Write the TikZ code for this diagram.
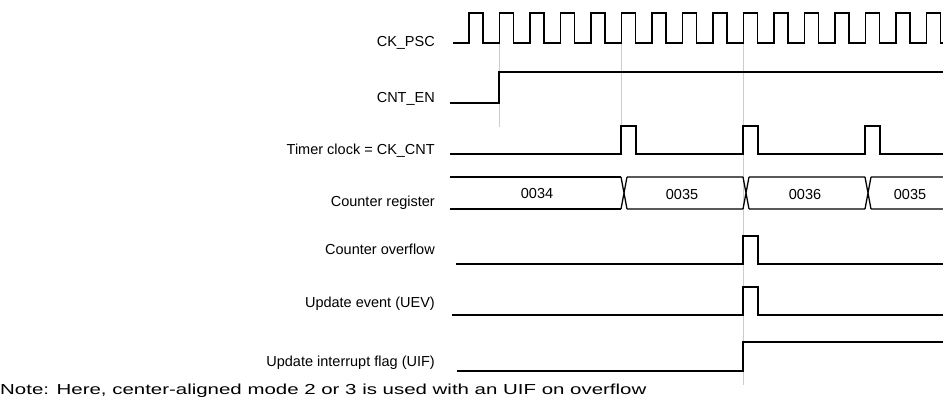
\documentclass[tikz,border=0pt]{standalone}
\usepackage{graphicx}
\usepackage{fontspec}
\setmainfont{Liberation Sans}
\begin{document}
\begin{tikzpicture}[x=1pt,y=-1pt,
  sig/.style={line width=1.3pt},
  guide/.style={gray!40,line width=0.8pt},
  lbl/.style={anchor=east,inner sep=0pt,font=\fontsize{14.5}{17}\selectfont},
  val/.style={inner sep=0pt,font=\fontsize{14.5}{17}\selectfont}]
\useasboundingbox (0,0) rectangle (943,403);

% labels
\node[lbl] (psc) at (435,43) {CK\_PSC};
\node[lbl] (en) at (435,99) {CNT\_EN};
\node[lbl] (tck) at (435,151) {Timer clock = CK\_CNT};
\node[lbl] (reg) at (435,203) {Counter register};
\node[lbl] (ovf) at (435,249) {Counter overflow};
\node[lbl] (uev) at (435,304) {Update event (UEV)};
\node[lbl] (uif) at (435,363) {Update interrupt flag (UIF)};
\node[val,anchor=west] (note) at (0,391) {\scalebox{1.41}[1]{Note: Here, center-aligned mode 2 or 3 is used with an UIF on overflow}};

% guide lines
\coordinate (g1) at (499,43);
\coordinate (g2) at (621,43);
\coordinate (g3) at (743,43);
\draw[guide] (g1) -- +(0,84);
\draw[guide] (g2) -- +(0,83);
\draw[guide] (g3) -- +(0,342);

% CK_PSC
\draw[sig] (453,43) -- (469,43)
  \foreach \k in {0,...,15} { -- ({469+30.5*\k},13) -- ({483+30.5*\k},13) -- ({483+30.5*\k},43) -- ({499.5+30.5*\k},43) }
  ;
% CNT_EN
\draw[sig] (450,103) -| (499,72) -- (943,72);
% timer clock
\draw[sig] (450,154) \foreach \x in {621,743,865} { -| (\x,126) -| (\x+15,154) } -- (943,154);
% counter register
\draw[sig] (450,177) -- (621,177) (450,209) -- (621,209);
\foreach \a/\b in {621/743,743/865,865/943}
  \draw[sig] (\a,177) -- (\a+6,209) (\a,209) -- (\a+6,177)
    (\a+6,177) -- (\b,177) (\a+6,209) -- (\b,209);
\node[val] (v1) at (537,194) {0034};
\node[val] (v2) at (682,195) {0035};
\node[val] (v3) at (805,195) {0036};
\node[val] (v4) at (910,195) {0035};
% overflow, UEV, UIF
\draw[sig] (456,264) -| (743,236) -| (758,264) -- (943,264);
\draw[sig] (452,315) -| (743,287) -| (758,315) -- (943,315);
\draw[sig] (457,371) -| (743,342) -- (943,342);
\end{tikzpicture}
\end{document}
